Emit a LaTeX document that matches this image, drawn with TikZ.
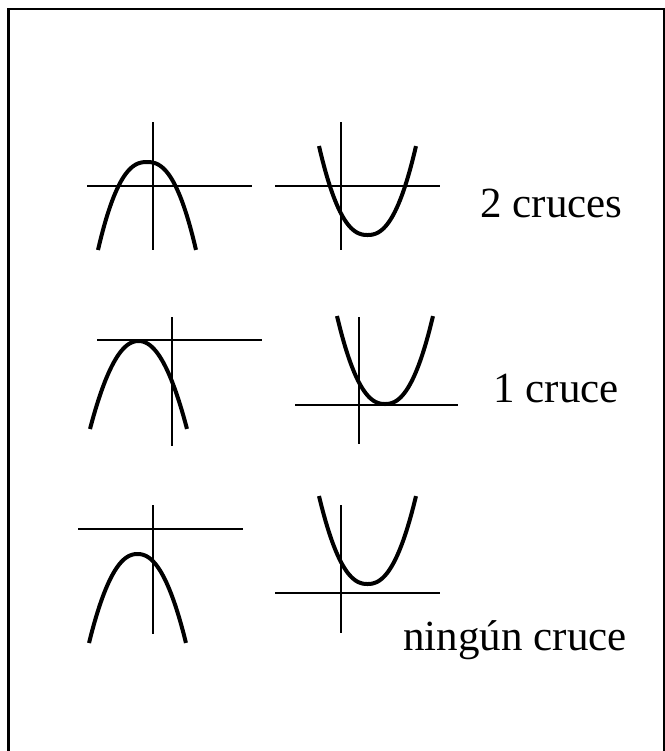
\documentclass[tikz,border=0pt]{standalone}
\usepackage{fontspec}
\setmainfont{Liberation Serif}
\usepackage{tikz}

\begin{document}
\begin{tikzpicture}[x=0.5pt,y=-0.5pt,
  axis/.style={line width=1.3pt},
  curve/.style={line width=2pt, domain=-1:1, samples=61, smooth},
  frame/.style={line width=1.2pt},
  lbl/.style={anchor=base west, inner sep=0pt, font=\fontsize{21.5}{25}\selectfont}
]
\useasboundingbox (0,0) rectangle (665,751);
\draw[frame] (8.5,760) -- (8.5,9) -- (665,9);
\draw[frame] (664,9) -- (664,760);

% 2 cruces
\draw[axis] (87,186) -- (252,186);
\draw[axis] (153,122) -- (153,250);
\draw[curve] plot ({147+49*\x},{162+88*abs(\x)^2.4});

\draw[axis] (275,186) -- (440,186);
\draw[axis] (341,122) -- (341,250);
\draw[curve] plot ({367.5+48.5*\x},{235-89*abs(\x)^2.35});

\node[lbl] (dos) at (480,217) {2 cruces};

% 1 cruce
\draw[axis] (97,340) -- (262,340);
\draw[axis] (172,317) -- (172,446);
\draw[curve] plot ({138.5+48.5*\x},{341+88*abs(\x)^2.1});

\draw[axis] (295,405) -- (458,405);
\draw[axis] (359,317) -- (359,444);
\draw[curve] plot ({385+48*\x},{404-88*abs(\x)^2.3});

\node[lbl] (uno) at (493,402) {1 cruce};

% ningun cruce
\draw[axis] (78,529) -- (243,529);
\draw[axis] (153,505) -- (153,634);
\draw[curve] plot ({137.5+48.5*\x},{554+89*abs(\x)^2.2});

\draw[axis] (275,593) -- (440,593);
\draw[axis] (341,505) -- (341,633);
\draw[curve] plot ({367.5+48.5*\x},{584-88*abs(\x)^2.3});

\node[lbl] (cero) at (403,650) {ningún cruce};
\end{tikzpicture}
\end{document}
